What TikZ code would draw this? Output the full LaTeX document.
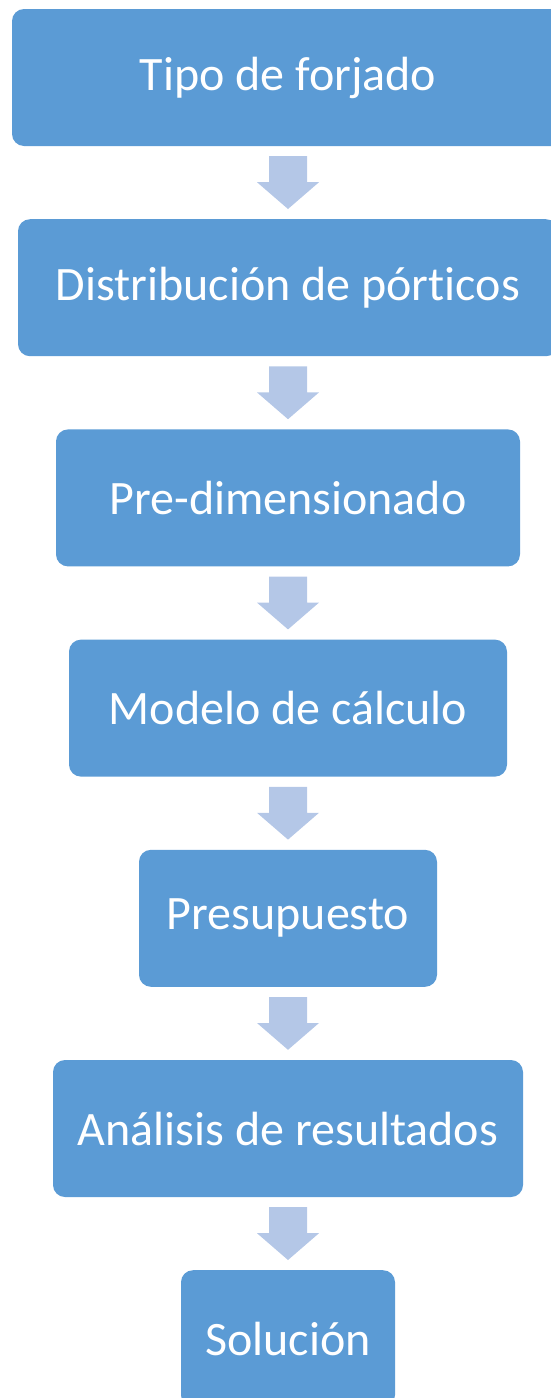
\documentclass[tikz,border=0pt]{standalone}
\usepackage{fontspec}
\setmainfont{Carlito}[Ligatures=NoCommon, RawFeature={-calt}]
\usetikzlibrary{positioning,calc}

\definecolor{boxblue}{HTML}{5B9BD5}
\definecolor{arrowblue}{HTML}{B4C7E7}

\tikzset{
    stage/.style={fill=boxblue, rounded corners=12pt, text=white, minimum height=137pt,
        inner sep=0pt, font=\fontsize{48}{58}\selectfont},
    downarrow/.style={fill=arrowblue}
}

% block arrow between two stages
\newcommand{\stagearrow}[2]{
    \fill [downarrow] ($(#1.south)+(-19pt,-10pt)$) -- ++(38pt,0) -- ++(0,-26pt) -- ++(12pt,0)
        -- ($(#2.north)+(0,10pt)$) -- ($(#1.south)+(-31pt,-36pt)$) -- ++(12pt,0) -- cycle;
}

\begin{document}
\begin{tikzpicture}[x=1pt, y=1pt]
            \useasboundingbox (0,0) rectangle (550,-1398);
            \node [stage, minimum width=552pt] (forjado) at (288,-77.5) {Tipo de forjado};
            \node [stage, minimum width=540pt, below=72.8pt of forjado] (porticos) {Distribución de pórt\kern0pt icos};
            \node [stage, minimum width=464pt, below=72.8pt of porticos] (predim) {Pre-dimensionado};
            \node [stage, minimum width=438pt, below=72.8pt of predim] (modelo) {Modelo de cálculo};
            \node [stage, minimum width=298pt, below=72.8pt of modelo] (presupuesto) {Presupuesto};
            \node [stage, minimum width=470pt, below=72.8pt of presupuesto] (analisis) {Análisis de resultados};
            \node [stage, minimum width=214pt, below=72.8pt of analisis] (solucion) {Solución};
            \stagearrow{forjado}{porticos}
            \stagearrow{porticos}{predim}
            \stagearrow{predim}{modelo}
            \stagearrow{modelo}{presupuesto}
            \stagearrow{presupuesto}{analisis}
            \stagearrow{analisis}{solucion}
        \end{tikzpicture}
\end{document}
